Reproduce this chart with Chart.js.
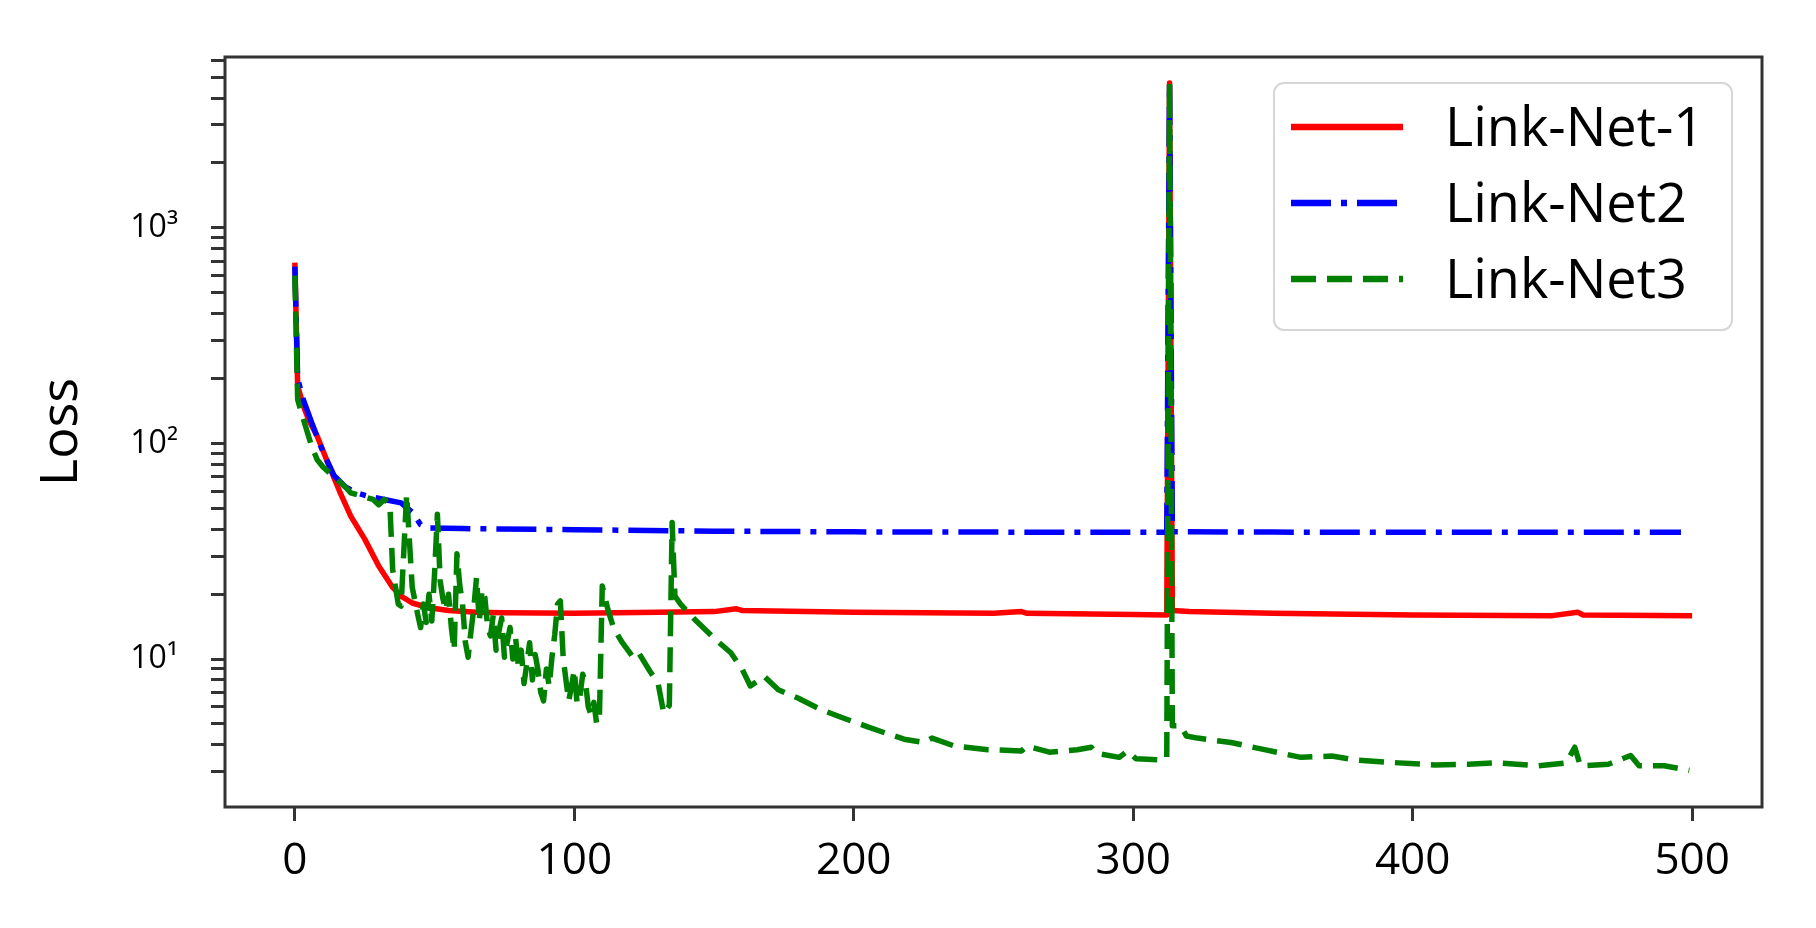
<!DOCTYPE html>
<html>
<head>
<meta charset="utf-8">
<script src="https://cdn.jsdelivr.net/npm/chart.js@4.4.0/dist/chart.umd.min.js"></script>
<style>
    body { margin: 0; background: #fff; }
    #chartCanvas { display: block; }
</style>
</head>
<body>
<canvas id="chartCanvas" width="1816" height="928"></canvas>
<script>
// values
const seriesNames = ['Link-Net-1', 'Link-Net2', 'Link-Net3'];

const redEpochs = [0, 1, 3, 5, 8, 12, 16, 20, 25, 30, 35, 38, 42, 48, 55, 65, 75, 100, 130, 150, 158, 160, 200, 250, 260, 262, 300, 312, 313, 314, 320, 350, 400, 450, 459, 461, 500];
const redLoss = [690, 185, 150, 128, 108, 80, 60, 46, 36, 27, 21.5, 19.6, 18.2, 17.3, 16.8, 16.5, 16.4, 16.3, 16.5, 16.6, 17.1, 16.8, 16.5, 16.3, 16.6, 16.3, 16.1, 16.0, 4700, 16.8, 16.6, 16.3, 16.0, 15.9, 16.5, 16.0, 15.9];

const blueEpochs = [0, 1, 3, 6, 10, 14, 18, 22, 26, 32, 38, 42, 45, 48, 60, 100, 150, 200, 300, 312, 313, 314, 350, 400, 496];
const blueLoss = [660, 200, 160, 125, 92, 71, 63, 59, 57, 55, 53, 48, 42, 40.5, 40.3, 39.8, 39.2, 38.9, 38.7, 38.7, 4700, 39.0, 38.8, 38.7, 38.7];

const greenEpochs = [0, 1, 2, 4, 6, 8, 10, 14, 18, 20, 24, 28, 30, 32, 34, 35, 37, 38, 40, 42,
    44, 45, 46, 47, 48, 49, 50, 51, 52, 53, 54, 55, 56, 57, 58, 59, 60, 61, 62, 63, 64, 65, 66, 67, 68, 69,
    70, 71, 72, 73, 74, 75, 76, 77, 78, 79, 80, 81, 82, 83, 84, 85, 86, 87, 88, 89, 90, 91, 92, 93, 94, 95,
    96, 97, 98, 99, 100, 101, 102, 103, 104, 105, 106, 107, 108, 109, 110,
    112, 114, 117, 121, 123, 127, 130, 132, 134, 135, 136, 138, 143, 150, 156, 160, 163, 168, 173, 180, 188,
    195, 204, 210, 218, 225, 228, 236, 248, 260, 262, 270, 280, 285, 287, 295, 298, 301, 305, 311, 312, 313,
    314, 317, 319, 323, 335, 347, 360, 371, 380, 395, 408, 420, 430, 445, 455, 458, 460, 470, 478, 481, 490, 499];
const greenLoss = [600, 160, 144, 118, 97, 84, 78, 70, 63, 59, 57, 55, 52, 55, 52, 26, 18, 17.6, 58, 21.5,
    16, 14, 18, 14.8, 20, 15, 25, 47, 23, 19, 16.8, 20, 14, 11, 30.8, 22, 18, 12, 10.2, 13.4, 17, 23.9, 15, 21, 19.2, 14,
    12.8, 16, 11, 13.4, 15.5, 10.2, 12, 14, 10, 12.5, 9.2, 11, 7.7, 9.5, 11.9, 8, 10.5, 8.9, 7, 6.4, 9, 7.5, 10.2, 13, 18, 18.6,
    10.2, 8, 6.4, 7.5, 8.9, 6.2, 6.7, 8.5, 7.8, 6, 5.5, 6.3, 5.0, 5.5, 21.8,
    17, 14, 12, 10.2, 10.7, 8.8, 7.7, 5.6, 6.1, 43, 19.6, 18, 15.3, 12.5, 10.7, 9, 7.5, 8.3, 7.2, 6.6, 5.85,
    5.4, 4.9, 4.6, 4.25, 4.1, 4.3, 3.95, 3.8, 3.75, 3.95, 3.7, 3.8, 3.9, 3.65, 3.5, 3.75, 3.45, 3.43, 3.4, 3.5, 4700,
    4.9, 4.9, 4.4, 4.3, 4.1, 3.8, 3.5, 3.55, 3.4, 3.3, 3.23, 3.25, 3.3, 3.2, 3.3, 3.9, 3.2, 3.25, 3.57, 3.2, 3.2, 3.05];

const xTickValues = [0, 100, 200, 300, 400, 500];
const yMajorTicks = [10, 100, 1000];
const yMajorLabels = ['10\u00b9', '10\u00b2', '10\u00b3'];
const yMinorTicks = [3, 4, 5, 6, 7, 8, 9, 20, 30, 40, 50, 60, 70, 80, 90, 200, 300, 400, 500, 600, 700, 800, 900, 2000, 3000, 4000, 5000, 6000];

Chart.defaults.font.family = "'Open Sans', 'DejaVu Sans', sans-serif";

function toPoints(xs, ys) {
    return xs.map((x, i) => ({x: x, y: ys[i]}));
}

// box round the plot, like the matplotlib spines
const framePlugin = {
    id: 'frame',
    afterDatasetsDraw(chart) {
        const ctx = chart.ctx;
        const a = chart.chartArea;
        ctx.save();
        ctx.strokeStyle = '#333';
        ctx.lineWidth = 3;
        ctx.strokeRect(a.left, a.top, a.right - a.left, a.bottom - a.top);
        ctx.restore();
    }
};

// legend in the upper right corner of the plot
const legendPlugin = {
    id: 'cornerLegend',
    afterDraw(chart) {
        const ctx = chart.ctx;
        const a = chart.chartArea;
        const boxW = 458, boxH = 247;
        const left = a.right - 30 - boxW;
        const top = a.top + 26;
        ctx.save();
        ctx.beginPath();
        ctx.roundRect(left, top, boxW, boxH, 10);
        ctx.fillStyle = 'rgba(255,255,255,0.8)';
        ctx.fill();
        ctx.strokeStyle = '#d6d6d6';
        ctx.lineWidth = 2;
        ctx.stroke();

        ctx.font = "54px 'Open Sans'";
        ctx.textBaseline = 'alphabetic';
        chart.data.datasets.forEach((ds, i) => {
            const y = top + 44 + i * 76;
            ctx.beginPath();
            ctx.setLineDash(ds.borderDash || []);
            ctx.lineCap = 'butt';
            ctx.strokeStyle = ds.borderColor;
            ctx.lineWidth = 6.5;
            ctx.moveTo(left + 17, y);
            ctx.lineTo(left + 129, y);
            ctx.stroke();
            ctx.setLineDash([]);
            ctx.fillStyle = '#000';
            ctx.fillText(ds.label, left + 171, y + 19);
        });
        ctx.restore();
    }
};

const chartData = {
    datasets: [
        {
            label: seriesNames[0],
            data: toPoints(redEpochs, redLoss),
            borderColor: '#ff0000',
            order: 3
        },
        {
            label: seriesNames[1],
            data: toPoints(blueEpochs, blueLoss),
            borderColor: '#0000ff',
            borderDash: [40, 10, 6, 10],
            order: 2
        },
        {
            label: seriesNames[2],
            data: toPoints(greenEpochs, greenLoss),
            borderColor: '#008000',
            borderDash: [25, 11],
            order: 1
        }
    ]
};

chartData.datasets.forEach((ds) => {
    ds.borderWidth = 5.5;
    ds.pointRadius = 0;
    ds.tension = 0;
    ds.fill = false;
    ds.borderJoinStyle = 'round';
    ds.borderCapStyle = 'butt';
});

const chartOptions = {
    responsive: false,
    animation: false,
    devicePixelRatio: 1,
    layout: {padding: {top: 57, right: 54, left: 0, bottom: 0}},
    plugins: {
        legend: {display: false},
        tooltip: {enabled: false}
    },
    scales: {
        x: {
            type: 'linear',
            min: -25,
            max: 525,
            afterBuildTicks: (scale) => {
                scale.ticks = xTickValues.map((v) => ({value: v}));
            },
            afterFit: (scale) => {
                scale.height = 121;
            },
            border: {display: false},
            grid: {drawOnChartArea: false, drawTicks: true, tickLength: 14, tickWidth: 3, tickColor: '#333'},
            ticks: {font: {size: 44}, color: '#000', padding: 14, maxRotation: 0}
        },
        y: {
            type: 'logarithmic',
            min: 2.06,
            max: 6200,
            afterBuildTicks: (scale) => {
                const all = yMinorTicks.concat(yMajorTicks).sort((p, q) => p - q);
                scale.ticks = all.map((v) => ({value: v, major: yMajorTicks.includes(v)}));
            },
            afterFit: (scale) => {
                scale.width = 225;
            },
            border: {display: false},
            grid: {drawOnChartArea: false, drawTicks: true, tickLength: 14, tickWidth: 3, tickColor: '#333'},
            ticks: {
                autoSkip: false,
                font: {size: 32},
                color: '#000',
                padding: 33,
                callback: (value) => {
                    const i = yMajorTicks.indexOf(value);
                    return i >= 0 ? yMajorLabels[i] : '';
                }
            },
            title: {
                display: true,
                text: 'Loss',
                font: {size: 52},
                color: '#000',
                padding: {top: 31, bottom: 0}
            }
        }
    }
};

const chart = new Chart(document.getElementById('chartCanvas'), {
    type: 'line',
    data: chartData,
    options: chartOptions,
    plugins: [framePlugin, legendPlugin]
});
</script>
</body>
</html>
